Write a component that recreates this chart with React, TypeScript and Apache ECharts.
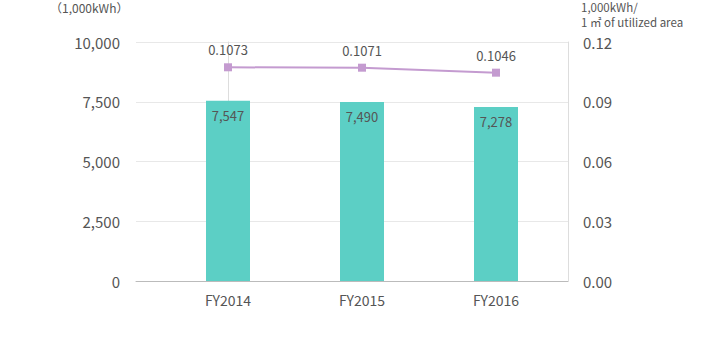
import React, { useEffect, useRef } from "react";
import * as echarts from "echarts";

const categories = ["FY2014", "FY2015", "FY2016"];
const energyValues = [7547, 7490, 7278];
const intensityValues = [0.1073, 0.1071, 0.1046];
const leftAxisName = "（1,000kWh）";
const rightAxisName = ["1,000kWh/", "1 ㎡ of utilized area"];

const FONT = "'Noto Sans CJK JP', 'Noto Sans', sans-serif";

export default function App() {
  const ref = useRef<HTMLDivElement>(null);
  useEffect(() => {
    if (!ref.current) return;
    const chart = echarts.init(ref.current, undefined, { renderer: "svg" });
    chart.setOption({
      animation: false,
      textStyle: { fontFamily: FONT },
      grid: { left: 136, right: 136, top: 42, bottom: 63 },
      graphic: [
        {
          type: "text",
          left: 50,
          top: 1,
          style: { text: leftAxisName, fontSize: 12, fill: "#555", fontFamily: FONT },
        },
        {
          type: "text",
          left: 581,
          top: 1,
          style: { text: rightAxisName[0], fontSize: 11.5, fill: "#555", fontFamily: FONT },
        },
        {
          type: "text",
          left: 581,
          top: 16,
          style: { text: rightAxisName[1], fontSize: 11.5, fill: "#555", fontFamily: FONT },
        },
      ],
      xAxis: {
        type: "value",
        min: -92 / 134,
        max: 2 + 72 / 134,
        splitLine: { show: false },
        axisTick: { show: false },
        axisLine: { show: true, lineStyle: { color: "#bbb" } },
        axisLabel: {
          customValues: [0, 1, 2],
          formatter: (v: number) => categories[Math.round(v)] ?? "",
          fontSize: 14,
          color: "#555",
          margin: 12,
          fontFamily: FONT,
        },
      },
      yAxis: [
        {
          type: "value",
          min: 0,
          max: 10000,
          interval: 2500,
          axisLine: { show: true, lineStyle: { color: "#ddd" } },
          axisTick: { show: false },
          splitLine: { lineStyle: { color: "#e8e8e8" } },
          axisLabel: {
            fontSize: 15,
            color: "#555",
            margin: 16,
            fontFamily: FONT,
            formatter: (v: number) => v.toLocaleString("en-US"),
          },
        },
        {
          type: "value",
          min: 0,
          max: 0.12,
          interval: 0.03,
          position: "right",
          axisLine: { show: true, lineStyle: { color: "#ddd" } },
          axisTick: { show: false },
          splitLine: { show: false },
          axisLabel: {
            fontSize: 15,
            color: "#555",
            margin: 15,
            fontFamily: FONT,
            formatter: (v: number) => v.toFixed(2),
          },
        },
      ],
      series: [
        {
          type: "bar",
          yAxisIndex: 0,
          barWidth: 44,
          data: energyValues.map((v, i) => [i, v]),
          itemStyle: { color: "#5ccfc5" },
          label: {
            show: true,
            position: "insideTop",
            distance: 8,
            fontSize: 13,
            color: "#555",
            fontFamily: FONT,
            formatter: (p: any) => p.value[1].toLocaleString("en-US"),
          },
        },
        {
          type: "line",
          yAxisIndex: 1,
          data: intensityValues.map((v, i) => [i, v]),
          symbol: "rect",
          symbolSize: 8,
          lineStyle: { color: "#c49bd0", width: 2 },
          itemStyle: { color: "#c49bd0" },
          label: {
            show: true,
            position: "top",
            distance: 7,
            fontSize: 13,
            color: "#555",
            fontFamily: FONT,
            formatter: (p: any) => p.value[1].toFixed(4),
          },
        },
      ],
    });
    return () => chart.dispose();
  }, []);
  return (
    <div
      ref={ref}
      style={{ position: "absolute", left: 0, top: 0, width: 704, height: 344 }}
    />
  );
}
